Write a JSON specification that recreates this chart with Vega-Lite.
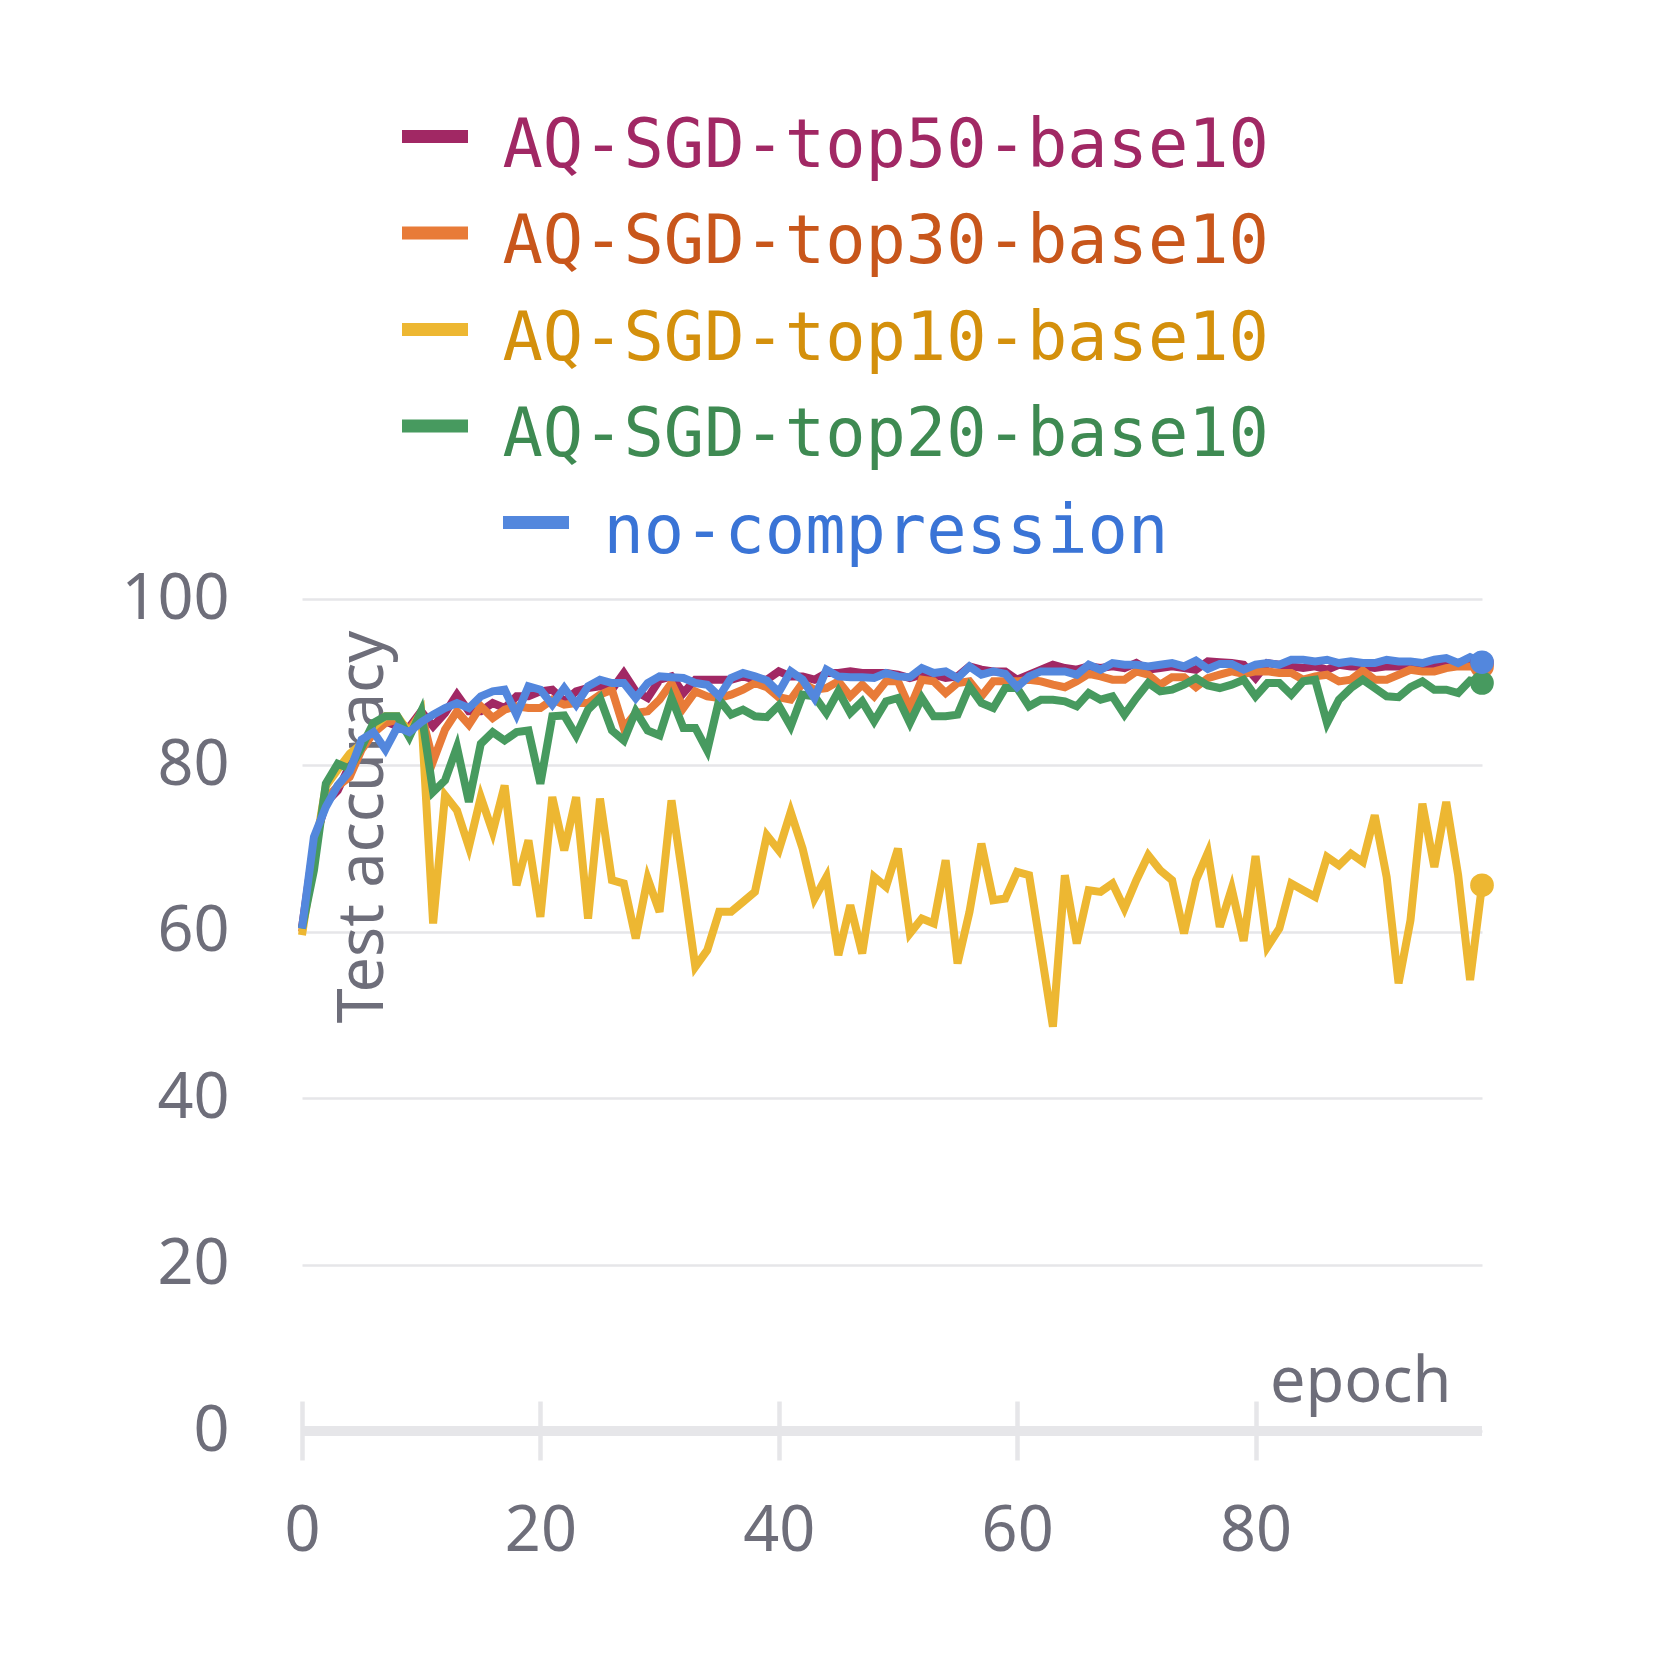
{
  "$schema": "https://vega.github.io/schema/vega-lite/v6.json",
  "width": 1180,
  "height": 832,
  "autosize": {"type": "none"},
  "padding": {"left": 302, "top": 599, "right": 178, "bottom": 229},
  "background": "#ffffff",
  "config": {
    "view": {"stroke": null},
    "axis": {
      "labelFont": "Noto Sans",
      "titleFont": "Noto Sans",
      "labelFontSize": 63,
      "titleFontSize": 63,
      "titleFontWeight": "normal",
      "labelColor": "#6e6e7a",
      "titleColor": "#6e6e7a"
    }
  },
  "data": {
    "values": [
      {"epoch": 0, "AQ-SGD-top50-base10": 60.5, "AQ-SGD-top30-base10": 60.0, "AQ-SGD-top10-base10": 59.6, "AQ-SGD-top20-base10": 60.4, "no-compression": 60.4},
      {"epoch": 1, "AQ-SGD-top50-base10": 70.5, "AQ-SGD-top30-base10": 70.0, "AQ-SGD-top10-base10": 69.0, "AQ-SGD-top20-base10": 67.4, "no-compression": 71.4},
      {"epoch": 2, "AQ-SGD-top50-base10": 75.5, "AQ-SGD-top30-base10": 76.0, "AQ-SGD-top10-base10": 77.5, "AQ-SGD-top20-base10": 77.8, "no-compression": 75.0},
      {"epoch": 3, "AQ-SGD-top50-base10": 77.0, "AQ-SGD-top30-base10": 77.5, "AQ-SGD-top10-base10": 79.5, "AQ-SGD-top20-base10": 80.2, "no-compression": 77.6},
      {"epoch": 4, "AQ-SGD-top50-base10": 80.0, "AQ-SGD-top30-base10": 78.6, "AQ-SGD-top10-base10": 81.4, "AQ-SGD-top20-base10": 79.6, "no-compression": 79.3},
      {"epoch": 5, "AQ-SGD-top50-base10": 82.5, "AQ-SGD-top30-base10": 81.9, "AQ-SGD-top10-base10": 82.6, "AQ-SGD-top20-base10": 82.2, "no-compression": 83.1},
      {"epoch": 6, "AQ-SGD-top50-base10": 84.2, "AQ-SGD-top30-base10": 83.9, "AQ-SGD-top10-base10": 84.6, "AQ-SGD-top20-base10": 85.1, "no-compression": 84.0},
      {"epoch": 7, "AQ-SGD-top50-base10": 85.3, "AQ-SGD-top30-base10": 85.1, "AQ-SGD-top10-base10": 85.9, "AQ-SGD-top20-base10": 85.9, "no-compression": 81.9},
      {"epoch": 8, "AQ-SGD-top50-base10": 84.7, "AQ-SGD-top30-base10": 85.5, "AQ-SGD-top10-base10": 85.9, "AQ-SGD-top20-base10": 85.9, "no-compression": 84.6},
      {"epoch": 9, "AQ-SGD-top50-base10": 84.6, "AQ-SGD-top30-base10": 84.3, "AQ-SGD-top10-base10": 83.9, "AQ-SGD-top20-base10": 83.4, "no-compression": 84.0},
      {"epoch": 10, "AQ-SGD-top50-base10": 86.5, "AQ-SGD-top30-base10": 86.3, "AQ-SGD-top10-base10": 86.3, "AQ-SGD-top20-base10": 86.5, "no-compression": 85.2},
      {"epoch": 11, "AQ-SGD-top50-base10": 84.7, "AQ-SGD-top30-base10": 80.5, "AQ-SGD-top10-base10": 61.0, "AQ-SGD-top20-base10": 76.8, "no-compression": 86.1},
      {"epoch": 12, "AQ-SGD-top50-base10": 86.3, "AQ-SGD-top30-base10": 84.3, "AQ-SGD-top10-base10": 76.4, "AQ-SGD-top20-base10": 78.2, "no-compression": 86.9},
      {"epoch": 13, "AQ-SGD-top50-base10": 88.5, "AQ-SGD-top30-base10": 86.5, "AQ-SGD-top10-base10": 74.6, "AQ-SGD-top20-base10": 82.2, "no-compression": 87.5},
      {"epoch": 14, "AQ-SGD-top50-base10": 86.5, "AQ-SGD-top30-base10": 84.9, "AQ-SGD-top10-base10": 70.2, "AQ-SGD-top20-base10": 75.6, "no-compression": 86.9},
      {"epoch": 15, "AQ-SGD-top50-base10": 86.5, "AQ-SGD-top30-base10": 87.1, "AQ-SGD-top10-base10": 76.2, "AQ-SGD-top20-base10": 82.6, "no-compression": 88.3},
      {"epoch": 16, "AQ-SGD-top50-base10": 87.5, "AQ-SGD-top30-base10": 85.7, "AQ-SGD-top10-base10": 72.0, "AQ-SGD-top20-base10": 84.0, "no-compression": 88.9},
      {"epoch": 17, "AQ-SGD-top50-base10": 86.9, "AQ-SGD-top30-base10": 86.7, "AQ-SGD-top10-base10": 77.6, "AQ-SGD-top20-base10": 83.0, "no-compression": 89.1},
      {"epoch": 18, "AQ-SGD-top50-base10": 88.3, "AQ-SGD-top30-base10": 87.1, "AQ-SGD-top10-base10": 65.6, "AQ-SGD-top20-base10": 84.0, "no-compression": 86.1},
      {"epoch": 19, "AQ-SGD-top50-base10": 88.3, "AQ-SGD-top30-base10": 86.9, "AQ-SGD-top10-base10": 71.0, "AQ-SGD-top20-base10": 84.2, "no-compression": 89.5},
      {"epoch": 20, "AQ-SGD-top50-base10": 88.9, "AQ-SGD-top30-base10": 86.9, "AQ-SGD-top10-base10": 61.8, "AQ-SGD-top20-base10": 77.8, "no-compression": 89.1},
      {"epoch": 21, "AQ-SGD-top50-base10": 89.1, "AQ-SGD-top30-base10": 87.9, "AQ-SGD-top10-base10": 76.2, "AQ-SGD-top20-base10": 85.9, "no-compression": 87.3},
      {"epoch": 22, "AQ-SGD-top50-base10": 87.7, "AQ-SGD-top30-base10": 87.3, "AQ-SGD-top10-base10": 69.8, "AQ-SGD-top20-base10": 86.0, "no-compression": 89.3},
      {"epoch": 23, "AQ-SGD-top50-base10": 88.9, "AQ-SGD-top30-base10": 87.5, "AQ-SGD-top10-base10": 76.2, "AQ-SGD-top20-base10": 83.6, "no-compression": 87.3},
      {"epoch": 24, "AQ-SGD-top50-base10": 89.3, "AQ-SGD-top30-base10": 87.5, "AQ-SGD-top10-base10": 61.6, "AQ-SGD-top20-base10": 86.7, "no-compression": 89.5},
      {"epoch": 25, "AQ-SGD-top50-base10": 89.5, "AQ-SGD-top30-base10": 88.5, "AQ-SGD-top10-base10": 76.0, "AQ-SGD-top20-base10": 88.1, "no-compression": 90.3},
      {"epoch": 26, "AQ-SGD-top50-base10": 89.1, "AQ-SGD-top30-base10": 89.1, "AQ-SGD-top10-base10": 66.2, "AQ-SGD-top20-base10": 84.2, "no-compression": 89.9},
      {"epoch": 27, "AQ-SGD-top50-base10": 91.1, "AQ-SGD-top30-base10": 84.5, "AQ-SGD-top10-base10": 65.8, "AQ-SGD-top20-base10": 83.0, "no-compression": 89.9},
      {"epoch": 28, "AQ-SGD-top50-base10": 88.9, "AQ-SGD-top30-base10": 86.3, "AQ-SGD-top10-base10": 59.2, "AQ-SGD-top20-base10": 86.5, "no-compression": 88.1},
      {"epoch": 29, "AQ-SGD-top50-base10": 88.1, "AQ-SGD-top30-base10": 86.5, "AQ-SGD-top10-base10": 66.4, "AQ-SGD-top20-base10": 84.2, "no-compression": 89.9},
      {"epoch": 30, "AQ-SGD-top50-base10": 90.3, "AQ-SGD-top30-base10": 87.9, "AQ-SGD-top10-base10": 62.4, "AQ-SGD-top20-base10": 83.6, "no-compression": 90.7},
      {"epoch": 31, "AQ-SGD-top50-base10": 90.7, "AQ-SGD-top30-base10": 89.9, "AQ-SGD-top10-base10": 75.8, "AQ-SGD-top20-base10": 88.1, "no-compression": 90.6},
      {"epoch": 32, "AQ-SGD-top50-base10": 88.7, "AQ-SGD-top30-base10": 86.9, "AQ-SGD-top10-base10": 66.0, "AQ-SGD-top20-base10": 84.5, "no-compression": 90.5},
      {"epoch": 33, "AQ-SGD-top50-base10": 90.3, "AQ-SGD-top30-base10": 88.9, "AQ-SGD-top10-base10": 55.8, "AQ-SGD-top20-base10": 84.5, "no-compression": 89.9},
      {"epoch": 34, "AQ-SGD-top50-base10": 90.3, "AQ-SGD-top30-base10": 88.3, "AQ-SGD-top10-base10": 57.8, "AQ-SGD-top20-base10": 81.8, "no-compression": 89.7},
      {"epoch": 35, "AQ-SGD-top50-base10": 90.3, "AQ-SGD-top30-base10": 88.1, "AQ-SGD-top10-base10": 62.4, "AQ-SGD-top20-base10": 87.9, "no-compression": 88.3},
      {"epoch": 36, "AQ-SGD-top50-base10": 90.3, "AQ-SGD-top30-base10": 88.5, "AQ-SGD-top10-base10": 62.4, "AQ-SGD-top20-base10": 86.1, "no-compression": 90.5},
      {"epoch": 37, "AQ-SGD-top50-base10": 90.7, "AQ-SGD-top30-base10": 89.1, "AQ-SGD-top10-base10": 63.6, "AQ-SGD-top20-base10": 86.7, "no-compression": 91.1},
      {"epoch": 38, "AQ-SGD-top50-base10": 90.3, "AQ-SGD-top30-base10": 89.9, "AQ-SGD-top10-base10": 64.8, "AQ-SGD-top20-base10": 85.9, "no-compression": 90.7},
      {"epoch": 39, "AQ-SGD-top50-base10": 90.3, "AQ-SGD-top30-base10": 89.4, "AQ-SGD-top10-base10": 71.6, "AQ-SGD-top20-base10": 85.8, "no-compression": 90.2},
      {"epoch": 40, "AQ-SGD-top50-base10": 91.3, "AQ-SGD-top30-base10": 88.2, "AQ-SGD-top10-base10": 69.8, "AQ-SGD-top20-base10": 87.2, "no-compression": 88.8},
      {"epoch": 41, "AQ-SGD-top50-base10": 90.7, "AQ-SGD-top30-base10": 87.9, "AQ-SGD-top10-base10": 74.4, "AQ-SGD-top20-base10": 84.7, "no-compression": 91.3},
      {"epoch": 42, "AQ-SGD-top50-base10": 90.7, "AQ-SGD-top30-base10": 89.9, "AQ-SGD-top10-base10": 70.0, "AQ-SGD-top20-base10": 88.5, "no-compression": 90.3},
      {"epoch": 43, "AQ-SGD-top50-base10": 90.3, "AQ-SGD-top30-base10": 89.1, "AQ-SGD-top10-base10": 64.0, "AQ-SGD-top20-base10": 88.3, "no-compression": 88.1},
      {"epoch": 44, "AQ-SGD-top50-base10": 91.1, "AQ-SGD-top30-base10": 89.3, "AQ-SGD-top10-base10": 66.6, "AQ-SGD-top20-base10": 86.3, "no-compression": 91.5},
      {"epoch": 45, "AQ-SGD-top50-base10": 91.1, "AQ-SGD-top30-base10": 90.1, "AQ-SGD-top10-base10": 57.2, "AQ-SGD-top20-base10": 88.9, "no-compression": 90.7},
      {"epoch": 46, "AQ-SGD-top50-base10": 91.3, "AQ-SGD-top30-base10": 88.3, "AQ-SGD-top10-base10": 63.2, "AQ-SGD-top20-base10": 86.3, "no-compression": 90.6},
      {"epoch": 47, "AQ-SGD-top50-base10": 91.1, "AQ-SGD-top30-base10": 89.7, "AQ-SGD-top10-base10": 57.4, "AQ-SGD-top20-base10": 87.7, "no-compression": 90.6},
      {"epoch": 48, "AQ-SGD-top50-base10": 91.1, "AQ-SGD-top30-base10": 88.3, "AQ-SGD-top10-base10": 66.6, "AQ-SGD-top20-base10": 85.3, "no-compression": 90.5},
      {"epoch": 49, "AQ-SGD-top50-base10": 91.1, "AQ-SGD-top30-base10": 90.1, "AQ-SGD-top10-base10": 65.4, "AQ-SGD-top20-base10": 87.7, "no-compression": 91.1},
      {"epoch": 50, "AQ-SGD-top50-base10": 90.9, "AQ-SGD-top30-base10": 90.1, "AQ-SGD-top10-base10": 70.0, "AQ-SGD-top20-base10": 88.1, "no-compression": 90.7},
      {"epoch": 51, "AQ-SGD-top50-base10": 90.5, "AQ-SGD-top30-base10": 86.9, "AQ-SGD-top10-base10": 59.8, "AQ-SGD-top20-base10": 85.1, "no-compression": 90.6},
      {"epoch": 52, "AQ-SGD-top50-base10": 90.9, "AQ-SGD-top30-base10": 90.3, "AQ-SGD-top10-base10": 61.6, "AQ-SGD-top20-base10": 88.1, "no-compression": 91.7},
      {"epoch": 53, "AQ-SGD-top50-base10": 90.9, "AQ-SGD-top30-base10": 90.1, "AQ-SGD-top10-base10": 61.0, "AQ-SGD-top20-base10": 85.9, "no-compression": 91.1},
      {"epoch": 54, "AQ-SGD-top50-base10": 90.5, "AQ-SGD-top30-base10": 88.7, "AQ-SGD-top10-base10": 68.6, "AQ-SGD-top20-base10": 85.9, "no-compression": 91.3},
      {"epoch": 55, "AQ-SGD-top50-base10": 90.7, "AQ-SGD-top30-base10": 89.9, "AQ-SGD-top10-base10": 56.2, "AQ-SGD-top20-base10": 86.1, "no-compression": 90.5},
      {"epoch": 56, "AQ-SGD-top50-base10": 91.9, "AQ-SGD-top30-base10": 90.1, "AQ-SGD-top10-base10": 62.4, "AQ-SGD-top20-base10": 89.5, "no-compression": 91.9},
      {"epoch": 57, "AQ-SGD-top50-base10": 91.5, "AQ-SGD-top30-base10": 88.3, "AQ-SGD-top10-base10": 70.6, "AQ-SGD-top20-base10": 87.5, "no-compression": 90.9},
      {"epoch": 58, "AQ-SGD-top50-base10": 91.3, "AQ-SGD-top30-base10": 90.1, "AQ-SGD-top10-base10": 63.8, "AQ-SGD-top20-base10": 86.9, "no-compression": 91.3},
      {"epoch": 59, "AQ-SGD-top50-base10": 91.3, "AQ-SGD-top30-base10": 90.1, "AQ-SGD-top10-base10": 64.0, "AQ-SGD-top20-base10": 89.3, "no-compression": 91.0},
      {"epoch": 60, "AQ-SGD-top50-base10": 90.3, "AQ-SGD-top30-base10": 90.1, "AQ-SGD-top10-base10": 67.2, "AQ-SGD-top20-base10": 89.3, "no-compression": 89.4},
      {"epoch": 61, "AQ-SGD-top50-base10": 90.9, "AQ-SGD-top30-base10": 90.3, "AQ-SGD-top10-base10": 66.8, "AQ-SGD-top20-base10": 87.1, "no-compression": 90.7},
      {"epoch": 62, "AQ-SGD-top50-base10": 91.5, "AQ-SGD-top30-base10": 90.1, "AQ-SGD-top10-base10": 57.8, "AQ-SGD-top20-base10": 87.9, "no-compression": 91.3},
      {"epoch": 63, "AQ-SGD-top50-base10": 92.1, "AQ-SGD-top30-base10": 89.7, "AQ-SGD-top10-base10": 48.6, "AQ-SGD-top20-base10": 87.9, "no-compression": 91.3},
      {"epoch": 64, "AQ-SGD-top50-base10": 91.7, "AQ-SGD-top30-base10": 89.4, "AQ-SGD-top10-base10": 66.8, "AQ-SGD-top20-base10": 87.7, "no-compression": 91.3},
      {"epoch": 65, "AQ-SGD-top50-base10": 91.5, "AQ-SGD-top30-base10": 90.1, "AQ-SGD-top10-base10": 58.6, "AQ-SGD-top20-base10": 87.1, "no-compression": 90.9},
      {"epoch": 66, "AQ-SGD-top50-base10": 91.9, "AQ-SGD-top30-base10": 91.0, "AQ-SGD-top10-base10": 65.0, "AQ-SGD-top20-base10": 88.7, "no-compression": 92.1},
      {"epoch": 67, "AQ-SGD-top50-base10": 91.7, "AQ-SGD-top30-base10": 90.7, "AQ-SGD-top10-base10": 64.8, "AQ-SGD-top20-base10": 87.9, "no-compression": 91.5},
      {"epoch": 68, "AQ-SGD-top50-base10": 91.9, "AQ-SGD-top30-base10": 90.3, "AQ-SGD-top10-base10": 65.8, "AQ-SGD-top20-base10": 88.3, "no-compression": 92.3},
      {"epoch": 69, "AQ-SGD-top50-base10": 91.7, "AQ-SGD-top30-base10": 90.3, "AQ-SGD-top10-base10": 62.8, "AQ-SGD-top20-base10": 86.1, "no-compression": 92.1},
      {"epoch": 70, "AQ-SGD-top50-base10": 92.3, "AQ-SGD-top30-base10": 91.3, "AQ-SGD-top10-base10": 66.2, "AQ-SGD-top20-base10": 88.1, "no-compression": 92.1},
      {"epoch": 71, "AQ-SGD-top50-base10": 91.5, "AQ-SGD-top30-base10": 90.9, "AQ-SGD-top10-base10": 69.2, "AQ-SGD-top20-base10": 89.9, "no-compression": 91.9},
      {"epoch": 72, "AQ-SGD-top50-base10": 91.7, "AQ-SGD-top30-base10": 89.7, "AQ-SGD-top10-base10": 67.4, "AQ-SGD-top20-base10": 88.9, "no-compression": 92.1},
      {"epoch": 73, "AQ-SGD-top50-base10": 91.9, "AQ-SGD-top30-base10": 90.6, "AQ-SGD-top10-base10": 66.2, "AQ-SGD-top20-base10": 89.1, "no-compression": 92.3},
      {"epoch": 74, "AQ-SGD-top50-base10": 91.7, "AQ-SGD-top30-base10": 90.6, "AQ-SGD-top10-base10": 59.8, "AQ-SGD-top20-base10": 89.7, "no-compression": 91.9},
      {"epoch": 75, "AQ-SGD-top50-base10": 91.5, "AQ-SGD-top30-base10": 89.4, "AQ-SGD-top10-base10": 66.2, "AQ-SGD-top20-base10": 90.5, "no-compression": 92.6},
      {"epoch": 76, "AQ-SGD-top50-base10": 92.5, "AQ-SGD-top30-base10": 90.5, "AQ-SGD-top10-base10": 69.5, "AQ-SGD-top20-base10": 89.6, "no-compression": 91.6},
      {"epoch": 77, "AQ-SGD-top50-base10": 92.4, "AQ-SGD-top30-base10": 90.9, "AQ-SGD-top10-base10": 60.6, "AQ-SGD-top20-base10": 89.3, "no-compression": 92.2},
      {"epoch": 78, "AQ-SGD-top50-base10": 92.3, "AQ-SGD-top30-base10": 91.3, "AQ-SGD-top10-base10": 65.2, "AQ-SGD-top20-base10": 89.7, "no-compression": 92.2},
      {"epoch": 79, "AQ-SGD-top50-base10": 92.1, "AQ-SGD-top30-base10": 91.0, "AQ-SGD-top10-base10": 58.9, "AQ-SGD-top20-base10": 90.3, "no-compression": 91.5},
      {"epoch": 80, "AQ-SGD-top50-base10": 90.5, "AQ-SGD-top30-base10": 91.3, "AQ-SGD-top10-base10": 69.1, "AQ-SGD-top20-base10": 88.3, "no-compression": 92.1},
      {"epoch": 81, "AQ-SGD-top50-base10": 92.3, "AQ-SGD-top30-base10": 91.3, "AQ-SGD-top10-base10": 58.2, "AQ-SGD-top20-base10": 89.9, "no-compression": 92.3},
      {"epoch": 82, "AQ-SGD-top50-base10": 92.1, "AQ-SGD-top30-base10": 91.1, "AQ-SGD-top10-base10": 60.4, "AQ-SGD-top20-base10": 89.9, "no-compression": 92.1},
      {"epoch": 83, "AQ-SGD-top50-base10": 91.9, "AQ-SGD-top30-base10": 91.1, "AQ-SGD-top10-base10": 65.8, "AQ-SGD-top20-base10": 88.5, "no-compression": 92.7},
      {"epoch": 84, "AQ-SGD-top50-base10": 91.7, "AQ-SGD-top30-base10": 90.3, "AQ-SGD-top10-base10": 65.0, "AQ-SGD-top20-base10": 90.1, "no-compression": 92.7},
      {"epoch": 85, "AQ-SGD-top50-base10": 91.9, "AQ-SGD-top30-base10": 90.7, "AQ-SGD-top10-base10": 64.2, "AQ-SGD-top20-base10": 90.3, "no-compression": 92.5},
      {"epoch": 86, "AQ-SGD-top50-base10": 91.5, "AQ-SGD-top30-base10": 90.9, "AQ-SGD-top10-base10": 69.0, "AQ-SGD-top20-base10": 85.1, "no-compression": 92.7},
      {"epoch": 87, "AQ-SGD-top50-base10": 92.1, "AQ-SGD-top30-base10": 90.1, "AQ-SGD-top10-base10": 68.0, "AQ-SGD-top20-base10": 87.9, "no-compression": 92.3},
      {"epoch": 88, "AQ-SGD-top50-base10": 91.9, "AQ-SGD-top30-base10": 90.3, "AQ-SGD-top10-base10": 69.4, "AQ-SGD-top20-base10": 89.3, "no-compression": 92.5},
      {"epoch": 89, "AQ-SGD-top50-base10": 91.9, "AQ-SGD-top30-base10": 91.4, "AQ-SGD-top10-base10": 68.4, "AQ-SGD-top20-base10": 90.3, "no-compression": 92.3},
      {"epoch": 90, "AQ-SGD-top50-base10": 91.7, "AQ-SGD-top30-base10": 90.3, "AQ-SGD-top10-base10": 74.0, "AQ-SGD-top20-base10": 89.3, "no-compression": 92.3},
      {"epoch": 91, "AQ-SGD-top50-base10": 91.9, "AQ-SGD-top30-base10": 90.3, "AQ-SGD-top10-base10": 66.6, "AQ-SGD-top20-base10": 88.3, "no-compression": 92.7},
      {"epoch": 92, "AQ-SGD-top50-base10": 91.9, "AQ-SGD-top30-base10": 90.9, "AQ-SGD-top10-base10": 53.8, "AQ-SGD-top20-base10": 88.2, "no-compression": 92.5},
      {"epoch": 93, "AQ-SGD-top50-base10": 91.9, "AQ-SGD-top30-base10": 91.5, "AQ-SGD-top10-base10": 61.4, "AQ-SGD-top20-base10": 89.4, "no-compression": 92.5},
      {"epoch": 94, "AQ-SGD-top50-base10": 92.1, "AQ-SGD-top30-base10": 91.3, "AQ-SGD-top10-base10": 75.4, "AQ-SGD-top20-base10": 90.1, "no-compression": 92.3},
      {"epoch": 95, "AQ-SGD-top50-base10": 92.1, "AQ-SGD-top30-base10": 91.3, "AQ-SGD-top10-base10": 67.8, "AQ-SGD-top20-base10": 89.1, "no-compression": 92.7},
      {"epoch": 96, "AQ-SGD-top50-base10": 92.1, "AQ-SGD-top30-base10": 91.7, "AQ-SGD-top10-base10": 75.6, "AQ-SGD-top20-base10": 89.1, "no-compression": 92.9},
      {"epoch": 97, "AQ-SGD-top50-base10": 92.1, "AQ-SGD-top30-base10": 91.9, "AQ-SGD-top10-base10": 66.8, "AQ-SGD-top20-base10": 88.7, "no-compression": 92.3},
      {"epoch": 98, "AQ-SGD-top50-base10": 92.5, "AQ-SGD-top30-base10": 91.9, "AQ-SGD-top10-base10": 54.2, "AQ-SGD-top20-base10": 90.2, "no-compression": 93.0},
      {"epoch": 99, "AQ-SGD-top50-base10": 92.3, "AQ-SGD-top30-base10": 91.9, "AQ-SGD-top10-base10": 65.6, "AQ-SGD-top20-base10": 89.9, "no-compression": 92.4}
    ]
  },
  "transform": [
    {
      "fold": ["AQ-SGD-top50-base10", "AQ-SGD-top30-base10", "AQ-SGD-top10-base10", "AQ-SGD-top20-base10", "no-compression"],
      "as": ["series", "accuracy"]
    }
  ],
  "encoding": {
    "x": {
      "field": "epoch",
      "type": "quantitative",
      "scale": {"domain": [0, 99], "nice": false, "zero": false},
      "axis": {
        "values": [0, 20, 40, 60, 80],
        "offset": -30,
        "domain": false,
        "grid": false,
        "ticks": true,
        "tickSize": 59,
        "tickWidth": 4.5,
        "tickColor": "#e6e6e9",
        "labelFlush": false,
        "labelPadding": 40,
        "title": "epoch",
        "titleAnchor": null,
        "titleX": 1149,
        "titleY": 0,
        "titleAlign": "right",
        "titleBaseline": "alphabetic"
      }
    },
    "y": {
      "field": "accuracy",
      "type": "quantitative",
      "scale": {"domain": [0, 100], "nice": false},
      "axis": {
        "values": [0, 20, 40, 60, 80, 100],
        "domain": false,
        "ticks": false,
        "grid": true,
        "gridColor": "#e6e6e9",
        "gridWidth": 2.5,
        "labelPadding": 73,
        "title": "Test accuracy",
        "titleAnchor": null,
        "titleAngle": -90,
        "titleX": 80,
        "titleY": 31,
        "titleAlign": "right",
        "titleBaseline": "alphabetic"
      }
    }
  },
  "layer": [
    {
      "mark": {"type": "rule", "color": "#e6e6e9", "strokeWidth": 10},
      "encoding": {
        "x": {"datum": 0},
        "x2": {"datum": 99},
        "y": {"datum": 0}
      }
    },
    {
      "mark": {"type": "line", "strokeWidth": 8, "strokeJoin": "miter"},
      "encoding": {
        "stroke": {
          "field": "series",
          "type": "nominal",
          "scale": {
            "domain": ["AQ-SGD-top50-base10", "AQ-SGD-top30-base10", "AQ-SGD-top10-base10", "AQ-SGD-top20-base10", "no-compression"],
            "range": ["#a12864", "#e87b38", "#edb732", "#479a5f", "#5387dd"]
          },
          "legend": {
            "orient": "none",
            "legendX": 93.5,
            "legendY": -502,
            "direction": "vertical",
            "title": null,
            "padding": 0,
            "symbolType": "stroke",
            "symbolSize": 4356,
            "symbolStrokeWidth": 13,
            "labelFont": "DejaVu Sans Mono",
            "labelFontSize": 67,
            "labelLimit": 2000,
            "labelOffset": 28,
            "rowPadding": 13.5,
            "encode": {
              "symbols": {
                "update": {
                  "x": {"signal": "datum.size * 0.5 + (datum.value === 'no-compression' ? 101 : 0)"}
                }
              },
              "labels": {
                "update": {
                  "x": {"signal": "datum.size + 28 + (datum.value === 'no-compression' ? 101 : 0)"},
                  "dy": {"value": 10},
                  "fill": {"signal": "['#a12864', '#c8561b', '#d4900c', '#3e8a52', '#3a74d6'][datum.index]"}
                }
              }
            }
          }
        }
      }
    },
    {
      "transform": [{"filter": "datum.epoch == 99"}],
      "mark": {"type": "point", "filled": true, "size": 560, "opacity": 1, "strokeWidth": 0},
      "encoding": {
        "fill": {
          "field": "series",
          "type": "nominal",
          "scale": {
            "domain": ["AQ-SGD-top50-base10", "AQ-SGD-top30-base10", "AQ-SGD-top10-base10", "AQ-SGD-top20-base10", "no-compression"],
            "range": ["#a12864", "#e87b38", "#edb732", "#479a5f", "#5387dd"]
          },
          "legend": null
        }
      }
    }
  ]
}
